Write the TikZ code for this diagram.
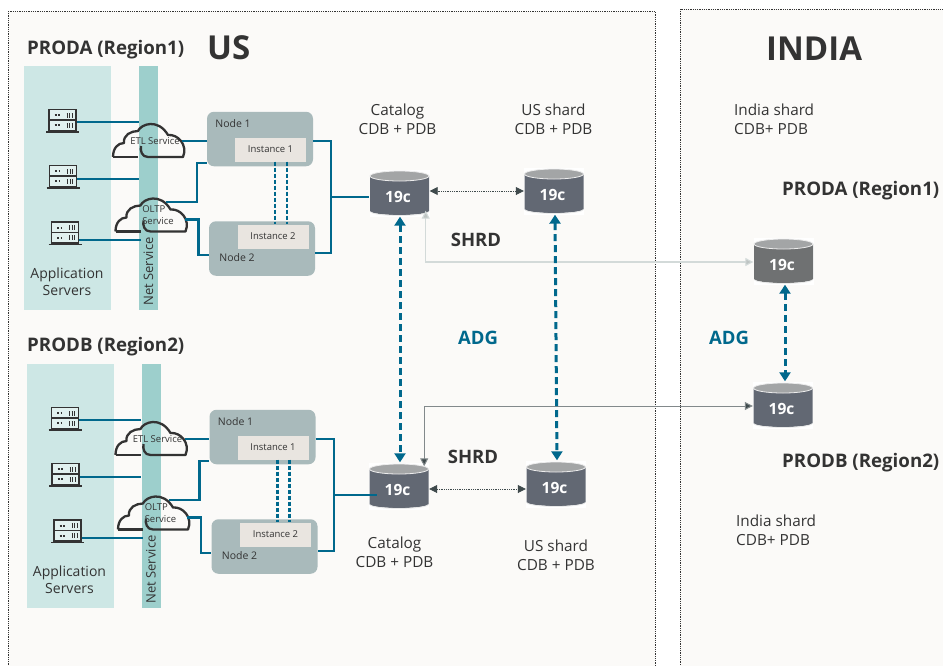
\documentclass[tikz,border=0pt]{standalone}
\usepackage{fontspec}
\setmainfont{Open Sans}
\usetikzlibrary{calc,arrows.meta}
\definecolor{panelbg}{HTML}{FBFAF8}
\definecolor{appbg}{HTML}{CDE7E5}
\definecolor{netbg}{HTML}{9DCFCC}
\definecolor{nodebg}{HTML}{A9BABB}
\definecolor{instbg}{HTML}{E9E5E0}
\definecolor{ink}{HTML}{333333}
\definecolor{oblue}{HTML}{00688C}
\definecolor{dbbody}{HTML}{626873}
\definecolor{dbgrey}{HTML}{6F7172}
\definecolor{dbtop}{HTML}{A3A5A6}
\definecolor{tipdark}{HTML}{3F4A4C}
\definecolor{shrdlight}{HTML}{D3DAD9}
\newcommand{\fsz}[1]{\fontsize{#1}{#1}\selectfont}
\tikzset{
 txt/.style={text=ink,inner sep=0,align=center,font=\fsz{14}},
 dbtxt/.style={text=ink,inner sep=0,align=center,font=\fsz{15.3}},
 titletxt/.style={text=ink,inner sep=0,font=\fsz{18.7}\bfseries},
 bigtxt/.style={text=ink,inner sep=0,font=\fsz{33}\bfseries},
 linktxt/.style={inner sep=0,font=\fsz{18.5}\bfseries},
 hosttxt/.style={text=ink,inner sep=0,font=\fsz{10.5}},
 smalltxt/.style={text=ink,inner sep=0,align=left,font=\fsz{9.5}},
 boxnode/.style={fill=nodebg,rounded corners=7pt,minimum width=106pt,minimum height=54.5pt,inner sep=0},
 instbox/.style={fill=instbg,minimum width=71pt,minimum height=24pt,inner sep=0,text=ink,font=\fsz{9.5}},
 conn/.style={draw=oblue,line width=2.3pt},
 inter/.style={draw=oblue,line width=2.3pt,dash pattern=on 4pt off 2pt},
 adg/.style={draw=oblue,line width=3pt,dash pattern=on 7pt off 4pt,{Triangle[length=9pt,width=11pt]}-{Triangle[length=9pt,width=11pt]}},
 shrd/.style={draw=tipdark,line width=.8pt,densely dotted,{Triangle[length=8pt,width=8pt]}-{Triangle[length=8pt,width=8pt]}},
 cloudpic/.pic={
  \draw[ink,line width=2.3pt,line join=round] (-35,17) .. controls (-35,8) and (-30,3) .. (-24,3)
   .. controls (-25,-5) and (-17,-9) .. (-10,-9) .. controls (-7,-16) and (10,-22) .. (20,-5)
   .. controls (30,-6) and (40,5) .. (35,17) -- (0,17) .. controls (-6,17) and (-8,11) .. (-7,6);
  \draw[ink,line width=2.3pt] (-35,17) -- (-10,17);
  \coordinate (east) at (34,1);
  \coordinate (top) at (15.5,-12.5);
 },
 serverpic/.pic={
  \node[draw=ink,fill=appbg!60!white,line width=1.3pt,minimum width=27pt,minimum height=21pt,inner sep=0] (box) at (0,0) {};
  \draw[ink,line width=1.3pt] (-13.5,0) -- (13.5,0);
  \draw[ink,line width=1.5pt] (-16.5,12) -- (16.5,12);
  \foreach \yy in {-5,5}{
   \draw[ink,line width=2pt,dash pattern=on 2pt off 1.5pt] (-8,\yy) -- (-3,\yy);
   \draw[ink,line width=5pt,dash pattern=on 1.3pt off 1.2pt] (4,\yy) -- (11,\yy);
  }
 },
 dbpic/.pic={
  \node[fill=white,minimum width=60pt,minimum height=47pt,inner sep=0] (box) at (0,0) {};
  \fill[#1] (-29.5,-17) -- (-29.5,18) arc[x radius=29.5,y radius=-4,start angle=180,end angle=360] -- (29.5,-17) -- cycle;
  \draw[white!75!dbtop,line width=.8pt] (-29,18.5) arc[x radius=29,y radius=-4,start angle=180,end angle=360];
  \draw[fill=dbtop,draw=white!80!dbtop,line width=.8pt] (0,-17) ellipse[x radius=29.5,y radius=5];
  \node[text=white,inner sep=0,font=\fsz{15.5}\bfseries] at (-1.5,4) {19c};
 },
}
\begin{document}
\begin{tikzpicture}[x=1pt,y=-1pt]
 \useasboundingbox (0,0) rectangle (943,665);
 \fill[white] (0,0) rectangle (943,665);
 \draw[ink,fill=panelbg,densely dotted,line width=.8pt] (8,11) rectangle (655,690); %US
 \draw[ink,fill=panelbg,densely dotted,line width=.8pt] (680,9) rectangle (960,690); %India

 \node[bigtxt,anchor=west] (ustitle) at (207,48) {US};
 \node[bigtxt,anchor=west] (intitle) at (766,49) {INDIA};
 \node[titletxt,anchor=west] (proda) at (27,50) {PRODA (Region1)};
 \node[titletxt,anchor=west] (prodb) at (27,346.5) {PRODB (Region2)};
 \node[titletxt,anchor=west] (indproda) at (782,190.5) {PRODA (Region1)};
 \node[titletxt,anchor=west] (indprodb) at (782,462.5) {PRODB (Region2)};

 \foreach \rg/\dx/\dy in {a/0/0,b/2.5/298}{
 \begin{scope}[shift={(\dx,\dy)},name prefix=\rg-]
  \node[fill=appbg,minimum width=87pt,minimum height=244pt,inner sep=0] (app) at (67.5,188) {};
  \node[fill=netbg,minimum width=19pt,minimum height=244pt,inner sep=0] (net) at (148.5,188) {};
  \node[txt] (applabel) at (67,281.5) {Application\\[3pt]Servers};
  \node[txt,rotate=90,font=\fsz{13}] (netlabel) at (148.5,271.5) {Net Service};
  \pic (sa) at (62.5,120) {serverpic};
  \pic (sb) at (63,176) {serverpic};
  \pic (sc) at (65,232.5) {serverpic};
  \pic (etlc) at (148,140) {cloudpic};
  \pic (oltpc) at (150.5,214.5) {cloudpic};
  \node[smalltxt] (etl) at (155,141) {ETL Service};
  \node[smalltxt] (oltp) at (158,215) {OLTP\\[2pt]Service};
  \node[boxnode] (node1) at (260,139) {};
  \node[boxnode] (node2) at (262,248.5) {};
  \node[instbox] (inst1) at (270.5,149.5) {Instance 1};
  \node[instbox] (inst2) at (273,236.5) {Instance 2};
  \node[hosttxt] (n1label) at (233,124) {Node 1};
  \node[hosttxt] (n2label) at (237,258) {Node 2};
  \coordinate (jc) at (331,197);

  \draw[conn] ([yshift=-2pt]sabox.east) -- ([yshift=-2pt]sabox.east -| net.west);
  \draw[conn] ([yshift=-3pt]sbbox.east) -- ([yshift=-3pt]sbbox.east -| net.west);
  \draw[conn] ([yshift=-7.5pt]scbox.east) -- ([yshift=-7.5pt,xshift=2pt]scbox.east -| net.west);
  \draw[conn] (etlceast) -- (etlceast -| node1.west);
  \draw[conn] (oltpctop) -- ++(31,0) |- ([yshift=-24pt]node1.west);
  \draw[conn] ([yshift=-4pt]oltpceast) -- ++(14,0) |- ([yshift=-6.5pt]node2.west);
  \draw[conn] ([yshift=-2pt]node1.east) -- ++(18,0) |- ([yshift=-4.5pt]node2.east);
  \draw[inter] ([xshift=4.5pt]inst1.south) -- ([xshift=2pt]inst2.north);
  \draw[inter] ([xshift=16.5pt]inst1.south) -- ([xshift=14pt]inst2.north);
 \end{scope}
 }

 \pic (dbca) at (399.5,193) {dbpic=dbbody}; %catalog
 \pic (dbua) at (554,191) {dbpic=dbbody}; %US shard
 \pic (dbcb) at (399,486) {dbpic=dbbody};
 \pic (dbub) at (556,484) {dbpic=dbbody};
 \pic (dbia) at (783.5,261) {dbpic=dbgrey}; %India shard
 \pic (dbib) at (783,405) {dbpic=dbbody};

 \draw[conn] (a-jc) -- (a-jc -| dbcabox.west);
 \draw[conn] (b-jc) -- ([xshift=8pt]b-jc -| dbcbbox.west);

 \draw[shrd] ([yshift=2pt]dbcabox.east) -- ([yshift=2pt]dbcabox.east -| dbuabox.west);
 \draw[shrd] ([yshift=-3pt]dbcbbox.east) -- ([yshift=-3pt]dbcbbox.east -| dbubbox.west);
 \draw[draw=shrdlight,line width=1.1pt,{Triangle[length=8pt,width=8pt,fill=shrdlight!90!black]}-{Triangle[length=8pt,width=8pt,fill=shrdlight!90!black]}] ([yshift=-1pt]dbiabox.west) -| ([xshift=-4pt,yshift=6pt]dbcabox.south east);
 \draw[draw=white!35!tipdark,line width=1pt,{Triangle[length=8pt,width=8pt,fill=tipdark]}-{Triangle[length=8pt,width=8pt,fill=tipdark]}] ([yshift=-1pt]dbibbox.west) -| ([xshift=-5pt,yshift=-4pt]dbcbbox.north east);

 \draw[adg] ([xshift=.5pt]dbcabox.south) -- ([xshift=1pt]dbcbbox.north);
 \draw[adg] ([xshift=1pt]dbuabox.south) -- ([xshift=1pt]dbubbox.north);
 \draw[adg] ([xshift=1.5pt]dbiabox.south) -- ([xshift=2pt]dbibbox.north);

 \node[dbtxt] (cata) at (397.5,119) {Catalog\\[4pt]CDB + PDB};
 \node[dbtxt] (usa) at (553.5,119) {US shard\\[4pt]CDB + PDB};
 \node[dbtxt,align=left,anchor=west] (ina) at (734,119) {India shard\\[4pt]CDB+ PDB};
 \node[dbtxt] (catb) at (394.5,552) {Catalog\\[4pt]CDB + PDB};
 \node[dbtxt] (usb) at (556,555.5) {US shard\\[4pt]CDB + PDB};
 \node[dbtxt,align=left,anchor=west] (inb) at (736,530.5) {India shard\\[4pt]CDB+ PDB};
 \node[linktxt,text=ink] (shrda) at (476,240) {SHRD};
 \node[linktxt,text=ink] (shrdb) at (473,457) {SHRD};
 \node[linktxt,text=oblue] (adga) at (478,338) {ADG};
 \node[linktxt,text=oblue] (adgb) at (729,338) {ADG};
\end{tikzpicture}
\end{document}
